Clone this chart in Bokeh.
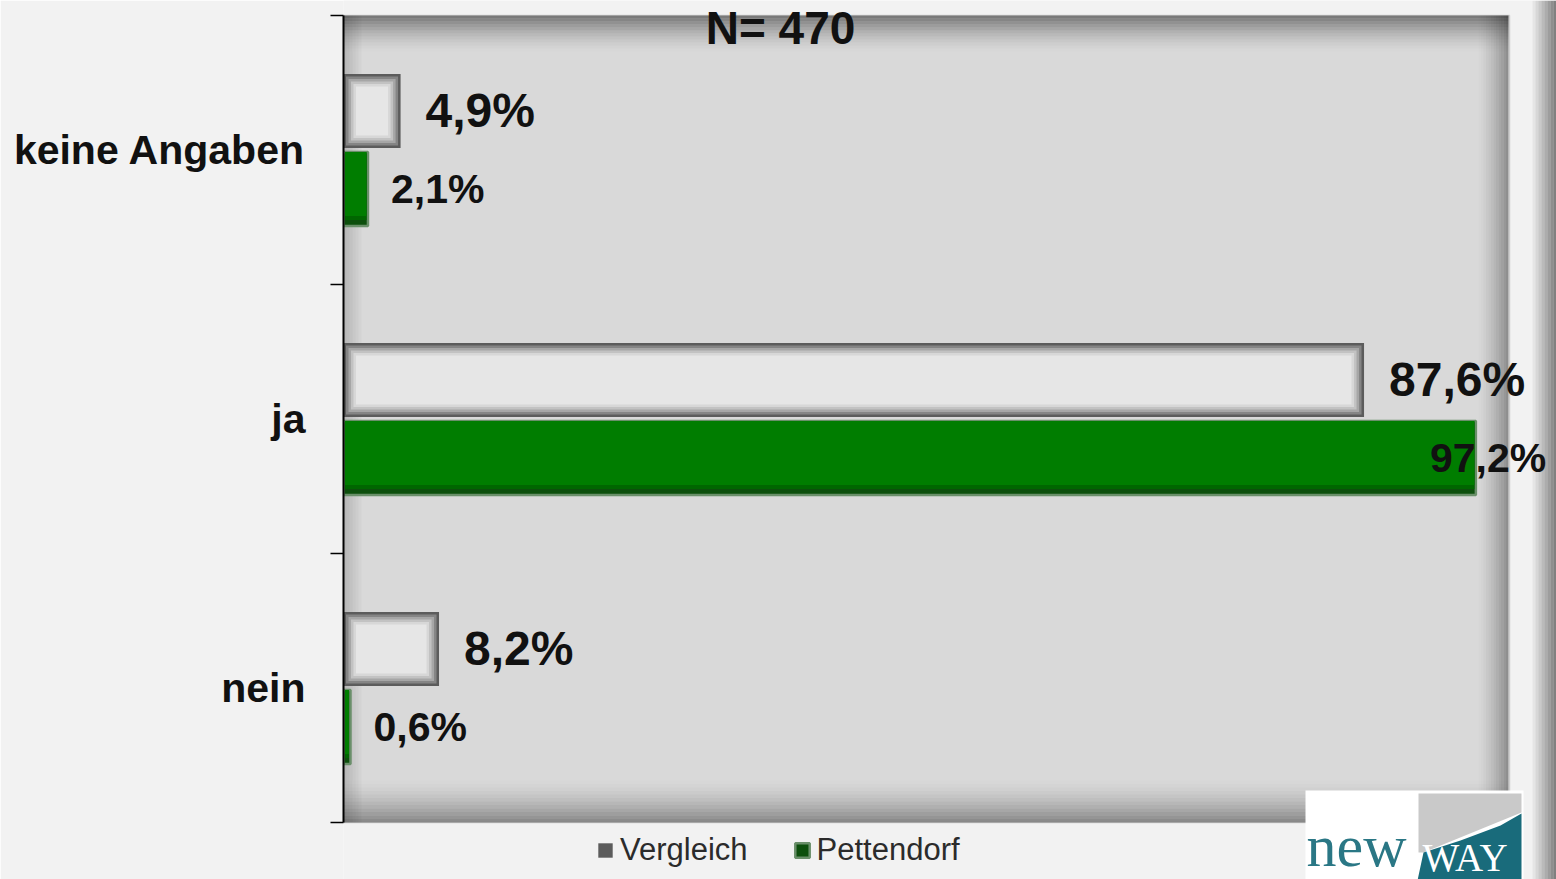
from bokeh.plotting import figure
from bokeh.models import (Range1d, FixedTicker, Legend, LegendItem, Label,
                          BoxAnnotation, PolyAnnotation, ColumnDataSource)
from bokeh.core.properties import value
from bokeh.embed import file_html
from bokeh.resources import INLINE

# ---------------- data ----------------
categories = ["keine Angaben", "ja", "nein"]
vergleich = [4.9, 87.6, 8.2]
pettendorf = [2.1, 97.2, 0.6]
series_names = ["Vergleich", "Pettendorf"]
sample_label = "N= 470"

# ---------------- layout constants (pixels) ----------------
W, H = 1556, 879
AREA_L, AREA_R, AREA_T, AREA_B = 343, 1508, 15, 822   # drawn plot area
n = len(categories)
XMAX = 100.0
PXX = (AREA_R - AREA_L) / XMAX          # px per % unit
PXY = (AREA_B - AREA_T) / n             # px per category
x_end = XMAX + (W - AREA_R) / PXX
y_start = -(H - AREA_B) / PXY
y_end = n + AREA_T / PXY
dx = 1.0 / PXX
dy = 1.0 / PXY


def px_x(px):
    return (px - AREA_L) / PXX


def px_y(py):
    return n - (py - AREA_T) / PXY


centers = [n - i - 0.5 for i in range(n)]


def fmt(v):
    return f"{v:.1f}%".replace(".", ",")


FONT = value("Liberation Sans")

p = figure(width=W, height=H,
           x_range=Range1d(0, x_end), y_range=Range1d(y_start, y_end),
           output_backend="svg", toolbar_location=None,
           min_border_left=AREA_L, min_border_right=0,
           min_border_top=0, min_border_bottom=0)
p.background_fill_color = "#f2f2f2"
p.border_fill_color = "#f2f2f2"
p.outline_line_color = None
p.grid.visible = False
p.xaxis.visible = False

# plot area background + inner shadow (decoration)
p.add_layout(BoxAnnotation(left=0, right=XMAX, bottom=0, top=n, fill_color="#d9d9d9",
                           fill_alpha=1, line_color=None, level="underlay"))
steps = 12
for i in range(steps):
    a = 0.44 * (1 - i / steps) ** 1.6
    p.add_layout(BoxAnnotation(left=0, right=XMAX, top=n - i * 3 * dy, bottom=n - (i + 1) * 3 * dy,
                               fill_color="black", fill_alpha=a, line_color=None,
                               level="underlay"))
    b = 0.36 * (1 - i / steps) ** 1.6
    p.add_layout(BoxAnnotation(left=0, right=XMAX, bottom=i * 3.5 * dy, top=(i + 1) * 3.5 * dy,
                               fill_color="black", fill_alpha=b, line_color=None,
                               level="underlay"))
    c = 0.34 * (1 - i / steps) ** 1.4
    p.add_layout(BoxAnnotation(bottom=0, top=n, right=XMAX - i * 2.5 * dx,
                               left=XMAX - (i + 1) * 2.5 * dx,
                               fill_color="black", fill_alpha=c, line_color=None,
                               level="underlay"))
for i in range(6):
    d = 0.16 * (1 - i / 6)
    p.add_layout(BoxAnnotation(bottom=0, top=n, left=i * 3 * dx, right=(i + 1) * 3 * dx,
                               fill_color="black", fill_alpha=d, line_color=None,
                               level="underlay"))
# page edge shading on the right
for i in range(8):
    e = 0.05 + 0.06 * i
    p.add_layout(BoxAnnotation(left=px_x(1532 + 3 * i), right=px_x(1535 + 3 * i),
                               fill_color="black", fill_alpha=e, line_color=None,
                               level="underlay"))
p.add_layout(BoxAnnotation(left=-13 * dx, right=XMAX + 1 * dx, bottom=0, top=n,
                           fill_alpha=0, line_color="#7a7a7a", line_width=1.5,
                           level="underlay"))

# ---------------- bars ----------------
off = 0.145
bh = 0.275
yv = [c + off for c in centers]
yp = [c - off for c in centers]

# Vergleich: light bar with dark vignette (layered insets)
v_shades = ["#5c5c5c", "#858585", "#a6a6a6", "#c2c2c2", "#d7d7d7", "#e6e6e6"]
v_renderers = []
for j, col in enumerate(v_shades):
    ins = j * 2.5
    src = ColumnDataSource(dict(
        y=yv,
        l=[ins * dx for _ in vergleich],
        r=[max(v - ins * dx, ins * dx) for v in vergleich],
    ))
    v_renderers.append(p.hbar(y="y", left="l", right="r", height=bh - 2 * ins * dy,
                              source=src, fill_color=col, line_color=None))

# Pettendorf: green bar with darker lower edge
p_base = p.hbar(y=yp, left=0, right=pettendorf, height=bh, fill_color="#0d4f0d",
                line_color="#6a8f6a", line_width=2.5)
g_layers = [("#006600", 5), ("#007d00", 9)]
for col, raise_px in g_layers:
    src = ColumnDataSource(dict(
        y=[y + raise_px * dy / 2 + 0.5 * dy for y in yp],
        l=[1.5 * dx for _ in pettendorf],
        r=[max(v - 1.5 * dx, 1.5 * dx) for v in pettendorf],
    ))
    p.hbar(y="y", left="l", right="r", height=bh - (raise_px + 1) * dy, source=src,
           fill_color=col, line_color=None)

# value labels
src_v = ColumnDataSource(dict(y=yv, v=vergleich, label=[fmt(v) for v in vergleich]))
src_p = ColumnDataSource(dict(y=yp, v=pettendorf, label=[fmt(v) for v in pettendorf],
                              xo=[23 if v < 90 else -46 for v in pettendorf]))
p.text(x="v", y="y", text="label", source=src_v, x_offset=25,
       text_baseline="middle", text_align="left", text_font=FONT,
       text_font_style="bold", text_font_size="48px", text_color="#111111")
p.text(x="v", y="y", text="label", source=src_p, x_offset="xo",
       text_baseline="middle", text_align="left", text_font=FONT,
       text_font_style="bold", text_font_size="41px", text_color="#111111")

p.add_layout(Label(x=px_x(780), y=px_y(27), text=sample_label, text_align="center",
                   text_baseline="middle", text_font="Liberation Sans", text_font_style="bold",
                   text_font_size="46px", text_color="#111111"))

# ---------------- y axis ----------------
p.yaxis.ticker = FixedTicker(ticks=centers, minor_ticks=list(range(n + 1)))
p.yaxis.major_label_overrides = {c: cat for c, cat in zip(centers, categories)}
p.yaxis.bounds = (0, n)
p.yaxis.major_label_text_font = "Liberation Sans"
p.yaxis.major_label_text_font_style = "bold"
p.yaxis.major_label_text_font_size = "41px"
p.yaxis.major_label_text_color = "#111111"
p.yaxis.major_tick_line_color = None
p.yaxis.major_tick_out = 0
p.yaxis.major_tick_in = 0
p.yaxis.major_label_standoff = 25
p.yaxis.minor_tick_line_color = "black"
p.yaxis.minor_tick_line_width = 1.5
p.yaxis.minor_tick_out = 13
p.yaxis.minor_tick_in = 0
p.yaxis.axis_line_color = "black"
p.yaxis.axis_line_width = 2

# ---------------- legend ----------------
legend = Legend(items=[LegendItem(label=series_names[0], renderers=[v_renderers[0]]),
                       LegendItem(label=series_names[1], renderers=[p_base])],
                orientation="horizontal", location=(253, 11),
                background_fill_alpha=0, border_line_color=None,
                padding=0, margin=0, spacing=45,
                glyph_width=18, glyph_height=18, label_standoff=6,
                label_text_font="Liberation Sans", label_text_font_size="31px",
                label_text_color="#2b2b2b")
p.add_layout(legend)

# ---------------- logo (decoration) ----------------
p.add_layout(BoxAnnotation(left=px_x(1305), right=px_x(1523), top=px_y(790), bottom=px_y(880),
                           fill_color="white", fill_alpha=1, line_color=None, level="overlay"))
p.add_layout(PolyAnnotation(xs=[px_x(v) for v in [1418, 1521, 1521, 1423, 1418]],
                            ys=[px_y(v) for v in [793, 793, 812, 852, 852]],
                            fill_color="#c9c9c9", fill_alpha=1, line_color=None, level="overlay"))
p.add_layout(PolyAnnotation(xs=[px_x(v) for v in [1423, 1460, 1500, 1521, 1521, 1417]],
                            ys=[px_y(v) for v in [852, 840, 825, 813, 880, 880]],
                            fill_color="#196b7b", fill_alpha=1, line_color=None, level="overlay"))
p.add_layout(Label(x=px_x(1306), y=px_y(878), text="new", text_align="left",
                   text_baseline="bottom", text_font="Liberation Serif",
                   text_font_size="60px", text_color="#2a7785", level="overlay"))
p.add_layout(Label(x=px_x(1422), y=px_y(878), text="WAY", text_align="left",
                   text_baseline="bottom", text_font="Liberation Serif",
                   text_font_size="39px", text_color="white", level="overlay"))

open("out.html", "w").write(file_html(p, INLINE))
